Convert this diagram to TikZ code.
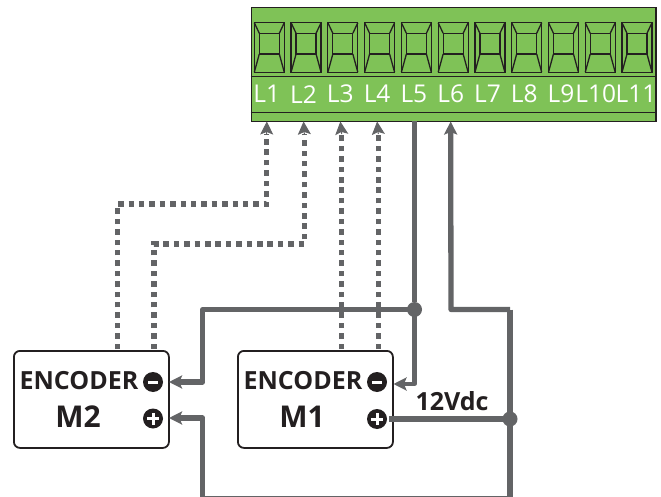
\documentclass[tikz,border=0pt]{standalone}
\usepackage{fontspec}
\setmainfont{Open Sans}
\usetikzlibrary{arrows.meta}
\definecolor{blockgreen}{HTML}{7FC257}
\definecolor{wiregray}{HTML}{636466}
\definecolor{inkdark}{HTML}{231F20}
\tikzset{
  wire/.style={draw=wiregray,line width=5.3pt,line join=round},
  dotwire/.style={draw=wiregray,line width=5.5pt,dash pattern=on 5.5pt off 4.9pt},
  tip/.style={-{Stealth[length=13pt,width=13pt,inset=2.5pt]}},
  enc/.style={draw=inkdark,line width=1.8pt,rounded corners=6pt,fill=white,minimum width=155pt,minimum height=97pt,inner sep=0pt,anchor=north west},
  pole/.style={circle,fill=inkdark,minimum size=20pt,inner sep=0pt},
  dot/.style={circle,fill=wiregray,minimum size=15pt,inner sep=0pt},
  enctext/.style={font=\fontsize{25}{25}\selectfont\bfseries,text=inkdark,inner sep=0pt},
  mtext/.style={font=\fontsize{30}{30}\selectfont\bfseries,text=inkdark,inner sep=0pt},
  termtext/.style={font=\fontsize{24.5}{24.5}\selectfont,text=white,inner sep=0pt},
  seg/.style={draw=inkdark,line width=1.3pt},
  frame/.style={draw=inkdark,line width=1.4pt},
}
\begin{document}
\begin{tikzpicture}[x=1pt,y=-1pt]
\useasboundingbox (0,0) rectangle (661,497);
% terminal block
\node[frame,fill=blockgreen,minimum width=404.5pt,minimum height=114pt,inner sep=0pt,anchor=north west] (block) at (250.7,7) {};
\draw[frame] (250.7,76.3) -- (655.2,76.3);
\draw[frame] (250.7,112.3) -- (655.2,112.3);
\foreach \i/\lab/\dx in {1/L1/0,2/L2/0,3/L3/0,4/L4/0,5/L5/0,6/L6/0,7/L7/0,8/L8/0,9/L9/0,10/L10/-2,11/L11/1.5}{
  \pgfmathsetmacro{\xx}{254.3+36.77*(\i-1)}
  \begin{scope}[xshift=\xx pt]
    \draw[seg] (0,22.7) rectangle (30,72.3);
    \draw[seg] (5,33.3) rectangle (25,54);
    \draw[seg] (0,22.7) -- (5,33.3) (30,22.7) -- (25,33.3);
    \draw[seg] (0,72.3) -- (5,54) (30,72.3) -- (25,54);
  \end{scope}
  \node[termtext] (t\i) at (\xx+12.5+\dx,94.2) {\lab};
  \coordinate (p\i) at (\xx+12.5,121.5);
}
% encoders
\node[enc] (m2) at (13,350) {};
\node[enc] (m1) at (237,350) {};
\node[enctext] (e2) at (79,380.5) {ENCODER};
\node[enctext] (e1) at (303,380.5) {ENCODER};
\node[mtext] (n2) at (78,417) {M2};
\node[mtext] (n1) at (302,417) {M1};
\node[pole] (m2minus) at (153,382) {};
\node[pole] (m2plus) at (153,418.5) {};
\node[pole] (m1minus) at (377,382) {};
\node[pole] (m1plus) at (377,419) {};
\foreach \c in {m2minus,m1minus}{\draw[white,line width=3pt] ([xshift=-5pt]\c.center) -- ([xshift=5pt]\c.center);}
\foreach \c in {m2plus,m1plus}{\draw[white,line width=3pt] ([xshift=-6pt]\c.center) -- ([xshift=6pt]\c.center) ([yshift=-6pt]\c.center) -- ([yshift=6pt]\c.center);}
% coordinates for routing
\coordinate (d1a) at (266.7,204); \coordinate (d1b) at (117.5,204); \coordinate (d1c) at (117.5,349);
\coordinate (d2a) at (304.3,244); \coordinate (d2b) at (154,244); \coordinate (d2c) at (154,349);
\coordinate (d3c) at (341.7,349); \coordinate (d4c) at (378.3,349);
\coordinate (a1) at (266.7,134); \coordinate (a2) at (304.3,134);
\coordinate (a3) at (341.7,134); \coordinate (a4) at (378.3,134);
% dotted signal wires
\draw[dotwire] (d1c) -- (d1b) -- (d1a) -- (a1);
\draw[dotwire] (d2c) -- (d2b) -- (d2a) -- (a2);
\draw[dotwire] (d3c) -- (a3);
\draw[dotwire] (d4c) -- (a4);
\foreach \k in {1,2,3,4}{
  \draw[wiregray,line width=1pt,tip] (a\k) -- (p\k);
}
% power wires
\node[dot] (j1) at (414.5,309.5) {};
\node[dot] (j2) at (510,419) {};
\coordinate (b5) at (414.5,121);
\coordinate (c5) at (414.5,384);
\coordinate (tipm1) at (393.5,384);
\coordinate (c2) at (202.7,309.5);
\coordinate (c3) at (202.7,382);
\coordinate (tipm2) at (169,382);
\coordinate (tipp2) at (169,418);
\coordinate (c4) at (202.7,418);
\coordinate (c6) at (202.7,498.7);
\coordinate (c7) at (510,498.7);
\coordinate (c8) at (510,309.5);
\coordinate (c9) at (451,309.5);
\draw[wire] (b5) -- (j1);
\draw[wire,line width=4.2pt,tip] (j1.center) -- (c5) -- (tipm1);
\draw[wire,tip] (j1.center) -- (c2) -- (c3) -- (tipm2);
\draw[wire,tip] (c8) -- (c9) -- (p6);
\draw[wire,tip] (c8) -- (c7) -- (c6) -- (c4) -- (tipp2);
\draw[wire] (m1plus.east) ++(2pt,0) -- (j2.center);
\node[font=\fontsize{25}{25}\selectfont\bfseries,text=inkdark,inner sep=0pt] (v12) at (452,401) {12Vdc};
\end{tikzpicture}
\end{document}
